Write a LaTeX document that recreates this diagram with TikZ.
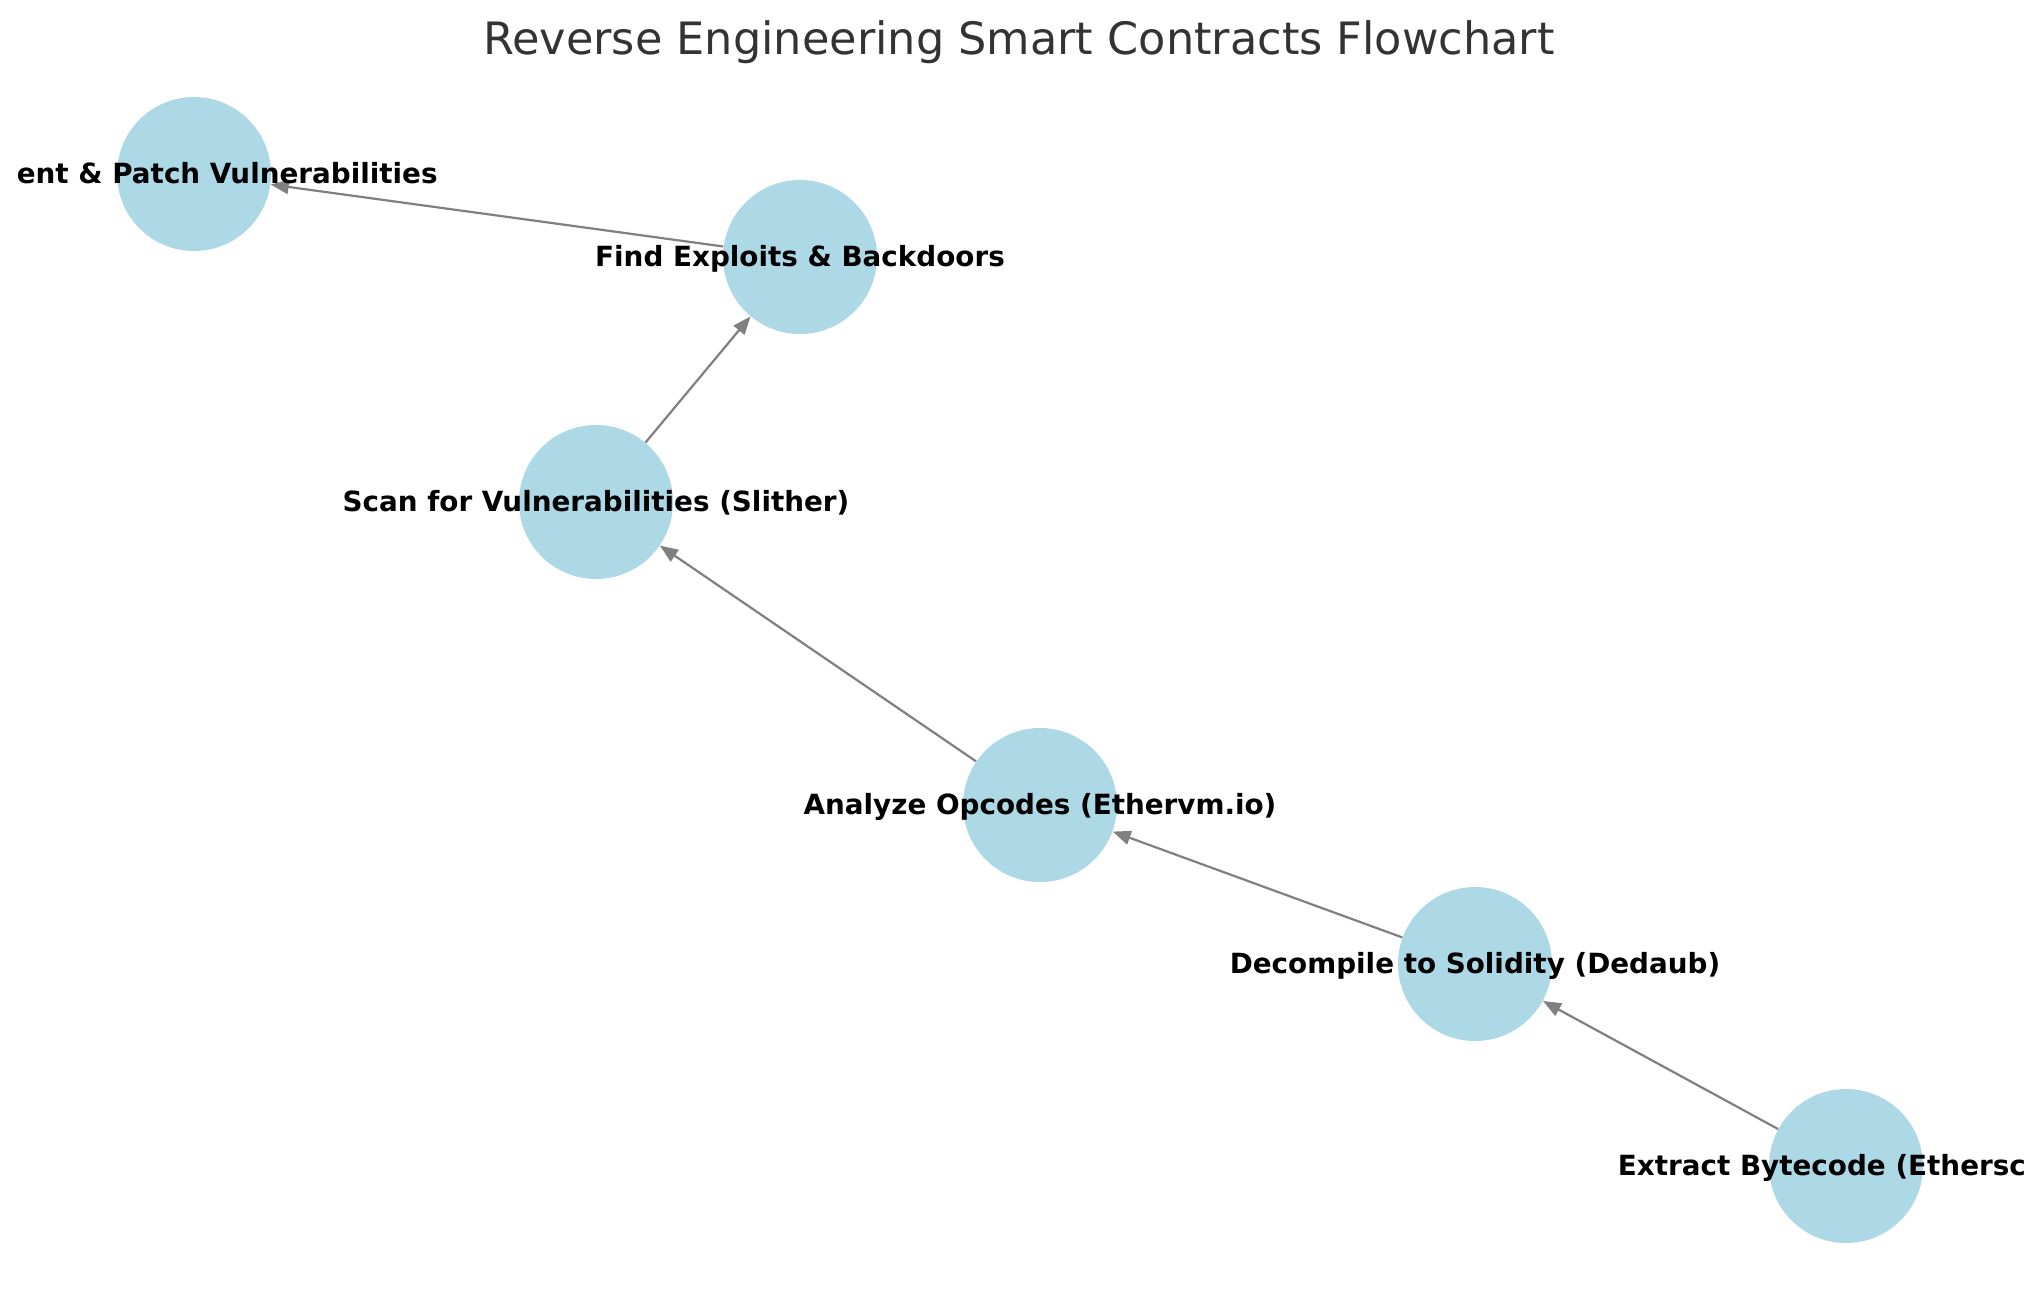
\documentclass[tikz,border=0pt]{standalone}
\usepackage{fontspec}
\setmainfont{DejaVu Sans}
\usepackage{tikz}
\usetikzlibrary{positioning,arrows.meta}
\definecolor{nodeblue}{HTML}{ADD8E6}
\definecolor{edgegray}{HTML}{808080}
\definecolor{titleink}{HTML}{333333}

\tikzset{
  stage/.style={circle, fill=nodeblue, draw=none, minimum size=77pt, inner sep=0pt},
  stagelabel/.style={font=\bfseries\fontsize{13.9}{16}\selectfont, text=black, inner sep=0pt,
    text height=12.5pt, text depth=3.3pt},
  flow/.style={draw=edgegray, line width=1.1pt, -{Triangle[length=9pt,width=7pt]}}
}

\begin{document}
\begin{tikzpicture}[x=0.5pt,y=-0.5pt]
  \useasboundingbox (0,0) rectangle (2039,1290);
  \fill[white] (0,0) rectangle (2039,1290);

  % title
  \node[font=\fontsize{22.3}{26}\selectfont, text=titleink] (title) at (1019,42)
    {Reverse Engineering Smart Contracts Flowchart};

  % stages
  \node[stage] (extract)   at (1846,1166) {};
  \node[stage] (decompile) at (1475,964)  {};
  \node[stage] (opcodes)   at (1040,805)  {};
  \node[stage] (scan)      at (596,502)   {};
  \node[stage] (exploits)  at (800,257)   {};
  \node[stage] (patch)     at (194,174)   {};

  % connectors
  \draw[flow] (extract) -- (decompile);
  \draw[flow] (decompile) -- (opcodes);
  \draw[flow] (opcodes) -- (scan);
  \draw[flow] (scan) -- (exploits);
  \draw[flow] (exploits) -- (patch);

  % labels (the outer two run off the page in the original)
  \node[stagelabel, anchor=west] (extract-t) at ([xshift=-114.25pt]extract.center) {Extract Bytecode (Ethersc};
  \node[stagelabel] (decompile-t) at (decompile) {Decompile to Solidity (Dedaub)};
  \node[stagelabel] (opcodes-t)   at (opcodes)   {Analyze Opcodes (Ethervm.io)};
  \node[stagelabel] (scan-t)      at (scan)      {Scan for Vulnerabilities (Slither)};
  \node[stagelabel] (exploits-t)  at (exploits)  {Find Exploits \& Backdoors};
  \node[stagelabel, anchor=east] (patch-t) at ([xshift=122pt]patch.center) {ent \& Patch Vulnerabilities};
\end{tikzpicture}
\end{document}
